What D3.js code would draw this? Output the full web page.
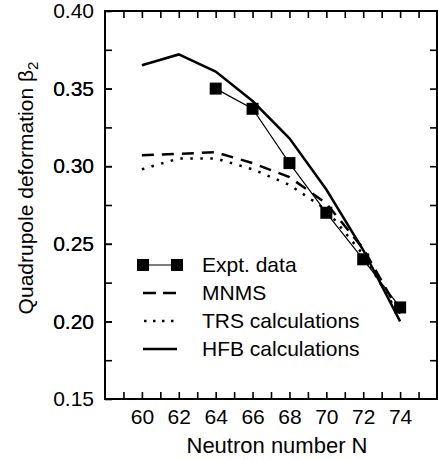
<!DOCTYPE html>
<html>
<head>
<meta charset="utf-8">
<script src="https://cdn.jsdelivr.net/npm/d3@7"></script>
<style>
  body { margin: 0; background: #fff; }
  text { font-family: "Liberation Sans", Arial, sans-serif; fill: #000; }
</style>
</head>
<body>
<div id="chart"></div>
<script>
// Neutron numbers and beta2 values
const neutrons = [60, 62, 64, 66, 68, 70, 72, 74];
const exptN = [64, 66, 68, 70, 72, 74];
const exptData = [0.350, 0.337, 0.302, 0.270, 0.240, 0.209];
const mnms = [0.307, 0.308, 0.309, 0.302, 0.293, 0.276, 0.247, 0.205];
const trs = [0.298, 0.305, 0.305, 0.298, 0.288, 0.272, 0.243, 0.203];
const hfb = [0.365, 0.372, 0.361, 0.342, 0.318, 0.285, 0.246, 0.200];
const xLabels = [60, 62, 64, 66, 68, 70, 72, 74];
const yLabels = [0.15, 0.20, 0.25, 0.30, 0.35, 0.40];
const legendNames = ["Expt. data", "MNMS", "TRS calculations", "HFB calculations"];

const width = 438, height = 460;
const m = {left: 105, top: 11, right: 1, bottom: 61};

const svg = d3.select("#chart")
  .append("svg")
  .attr("width", width)
  .attr("height", height);

const x = d3.scaleLinear().domain([58, 76]).range([m.left, width - m.right]);
const y = d3.scaleLinear().domain([0.15, 0.40]).range([height - m.bottom, m.top]);

// minor ticks every 1 in N, every 0.025 in beta
const xTicks = d3.range(59, 76, 1);
const yTicks = d3.range(0.175, 0.399, 0.025);

function tickStyle(g) {
  g.select(".domain").remove();
  g.selectAll("line").attr("stroke", "#000").attr("stroke-width", 1.6);
  g.selectAll("text").style("font-size", "21px");
}

// bottom axis
svg.append("g")
  .attr("transform", `translate(0,${y(0.15)})`)
  .call(d3.axisBottom(x).tickValues(xTicks).tickSize(-7).tickPadding(10)
    .tickFormat(d => xLabels.includes(d) ? d : ""))
  .call(tickStyle);

// top axis
svg.append("g")
  .attr("transform", `translate(0,${y(0.40)})`)
  .call(d3.axisTop(x).tickValues(xTicks).tickSize(-7).tickFormat(""))
  .call(tickStyle);

// left axis
svg.append("g")
  .attr("transform", `translate(${x(58)},0)`)
  .call(d3.axisLeft(y).tickValues(yTicks.concat(yLabels)).tickSize(-7).tickPadding(11)
    .tickFormat(d => yLabels.some(v => Math.abs(v - d) < 1e-6) ? d3.format(".2f")(d) : ""))
  .call(tickStyle);

// right axis
svg.append("g")
  .attr("transform", `translate(${x(76)},0)`)
  .call(d3.axisRight(y).tickValues(yTicks).tickSize(-7).tickFormat(""))
  .call(tickStyle);

// frame
svg.append("rect")
  .attr("x", x(58)).attr("y", y(0.40))
  .attr("width", x(76) - x(58)).attr("height", y(0.15) - y(0.40))
  .attr("fill", "none").attr("stroke", "#000").attr("stroke-width", 2);

const line = d3.line().x(d => x(d[0])).y(d => y(d[1]));

svg.append("path")
  .datum(neutrons.map((n, i) => [n, mnms[i]]))
  .attr("d", line).attr("fill", "none").attr("stroke", "#000")
  .attr("stroke-width", 2.5).attr("stroke-dasharray", "12,8");

svg.append("path")
  .datum(neutrons.map((n, i) => [n, trs[i]]))
  .attr("d", line).attr("fill", "none").attr("stroke", "#000")
  .attr("stroke-width", 2.5).attr("stroke-dasharray", "2.5,7.5");

svg.append("path")
  .datum(neutrons.map((n, i) => [n, hfb[i]]))
  .attr("d", line).attr("fill", "none").attr("stroke", "#000")
  .attr("stroke-width", 2.5);

const expt = exptN.map((n, i) => [n, exptData[i]]);
svg.append("path")
  .datum(expt)
  .attr("d", line).attr("fill", "none").attr("stroke", "#000")
  .attr("stroke-width", 1.2);

svg.selectAll("rect.pt")
  .data(expt)
  .enter()
  .append("rect")
  .attr("class", "pt")
  .attr("x", d => x(d[0]) - 6)
  .attr("y", d => y(d[1]) - 6)
  .attr("width", 12).attr("height", 12)
  .attr("fill", "#000");

// legend
const lg = svg.append("g");
const rowY = [265, 293, 321, 349];
const lx0 = 143, lx1 = 177;
lg.append("line").attr("x1", lx0).attr("x2", lx1).attr("y1", rowY[0]).attr("y2", rowY[0])
  .attr("stroke", "#000").attr("stroke-width", 1.2);
[lx0, lx1].forEach(cx => {
  lg.append("rect").attr("x", cx - 6).attr("y", rowY[0] - 6)
    .attr("width", 12).attr("height", 12).attr("fill", "#000");
});
lg.append("line").attr("x1", lx0).attr("x2", lx1).attr("y1", rowY[1]).attr("y2", rowY[1])
  .attr("stroke", "#000").attr("stroke-width", 2.5).attr("stroke-dasharray", "13,7");
lg.append("line").attr("x1", lx0 + 1).attr("x2", lx1).attr("y1", rowY[2]).attr("y2", rowY[2])
  .attr("stroke", "#000").attr("stroke-width", 2.5).attr("stroke-dasharray", "2.5,6.5");
lg.append("line").attr("x1", lx0).attr("x2", lx1).attr("y1", rowY[3]).attr("y2", rowY[3])
  .attr("stroke", "#000").attr("stroke-width", 2.5);

legendNames.forEach((name, i) => {
  lg.append("text").attr("x", 202).attr("y", rowY[i] + 7)
    .style("font-size", "21px").text(name);
});

// axis titles
svg.append("text")
  .attr("x", (x(58) + x(76)) / 2 + 6).attr("y", 453)
  .attr("text-anchor", "middle")
  .style("font-size", "22px")
  .text("Neutron number N");

const yt = svg.append("text")
  .attr("transform", "translate(33,188) rotate(-90)")
  .attr("text-anchor", "middle")
  .style("font-size", "21px");
yt.append("tspan").text("Quadrupole deformation \u03b2");
yt.append("tspan").attr("dy", 5).style("font-size", "15px").text("2");
</script>
</body>
</html>
